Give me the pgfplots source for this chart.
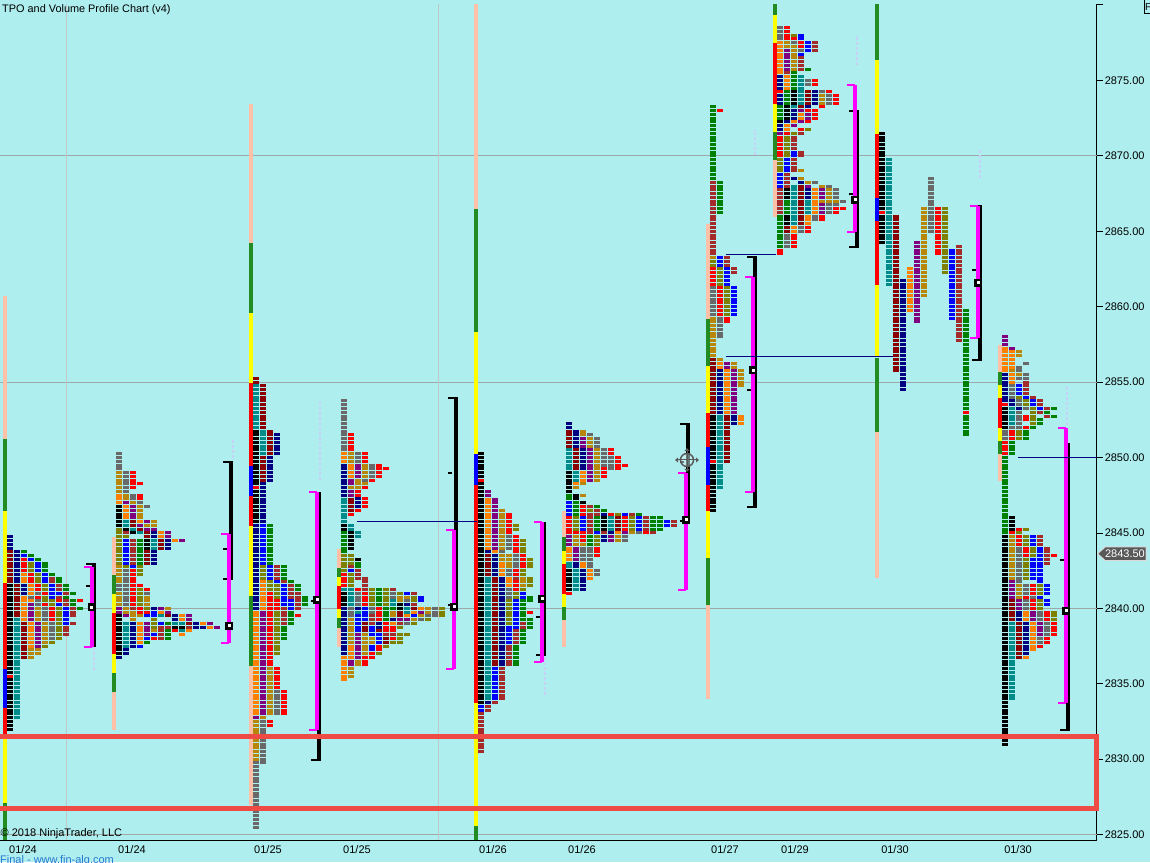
\documentclass[border=0pt]{standalone}
\usepackage{fontspec}
\setmainfont{Liberation Sans}
\usepackage{pgfplots}
\usepackage{pgfplotstable}
\pgfplotsset{compat=1.18}

\definecolor{bgc}{HTML}{AFEEEE}
\definecolor{gridc}{HTML}{9FA8A8}
\definecolor{vgrid}{HTML}{BFC8C8}
\definecolor{rectc}{HTML}{EE4B44}
\definecolor{fnt}{HTML}{C6D2F6}
\definecolor{mgn}{HTML}{FF00FF}
% TPO period colours
\definecolor{t1}{HTML}{000000}
\definecolor{t2}{HTML}{008B8B}
\definecolor{t3}{HTML}{000080}
\definecolor{t4}{HTML}{8B0000}
\definecolor{t5}{HTML}{FF7F00}
\definecolor{t6}{HTML}{800080}
\definecolor{t7}{HTML}{B8860B}
\definecolor{t8}{HTML}{696969}
\definecolor{t9}{HTML}{FF0000}
\definecolor{t10}{HTML}{808000}
\definecolor{t11}{HTML}{0000FF}
\definecolor{t12}{HTML}{A52A2A}
\definecolor{t13}{HTML}{008000}
\definecolor{t14}{HTML}{FFC0A8}
\definecolor{t15}{HTML}{228B22}
\definecolor{t16}{HTML}{FFFF00}

% one row = a run of TPO blocks of one colour in one column: x, lowest row, highest row, colour
\pgfplotstableread[row sep=\\]{
x lo hi c\\
10 2844 2844.75 3\\ 10 2841.75 2843.75 4\\ 10 2835.75 2841.5 1\\ 10 2835.5 2835.5 9\\ 10 2832 2835.25 1\\
17 2841.75 2843.75 3\\ 17 2839.5 2841.5 4\\ 17 2832.75 2839.25 2\\
24 2843.75 2843.75 13\\ 24 2843.5 2843.5 11\\ 24 2842.5 2843.25 9\\ 24 2841.75 2842.25 5\\ 24 2841 2841.5 3\\ 24 2839.25 2840.75 5\\ 24 2836.75 2839 4\\
31 2843.5 2843.5 13\\ 31 2843.25 2843.25 11\\ 31 2842.5 2843 10\\ 31 2841.75 2842.25 9\\ 31 2841 2841.5 5\\ 31 2840.75 2840.75 8\\ 31 2840.5 2840.5 5\\ 31 2839.25 2840.25 6\\ 31 2837.5 2839 5\\ 31 2836.75 2837.25 7\\
38 2843.25 2843.25 13\\ 38 2842.5 2843 11\\ 38 2841.75 2842.25 10\\ 38 2841.25 2841.5 9\\ 38 2841 2841 8\\ 38 2840.75 2840.75 9\\ 38 2840.25 2840.5 8\\ 38 2839.25 2840 7\\ 38 2837.5 2839 6\\ 38 2837 2837.25 7\\
45 2842.5 2843 13\\ 45 2841.75 2842.25 11\\ 45 2841.25 2841.5 10\\ 45 2841 2841 9\\ 45 2840.5 2840.75 10\\ 45 2840.25 2840.25 9\\ 45 2839.25 2840 8\\ 45 2837.75 2839 7\\ 45 2837.5 2837.5 10\\
52 2842.25 2842.25 13\\ 52 2841.75 2842 12\\ 52 2840.75 2841.5 11\\ 52 2840.25 2840.5 10\\ 52 2839.25 2840 9\\ 52 2838 2839 8\\ 52 2837.75 2837.75 10\\
59 2841.75 2842 13\\ 59 2841.25 2841.5 12\\ 59 2841 2841 11\\ 59 2840.75 2840.75 12\\ 59 2840.5 2840.5 9\\ 59 2840.25 2840.25 11\\ 59 2838 2840 10\\
66 2841.25 2841.5 13\\ 66 2841 2841 12\\ 66 2840.75 2840.75 13\\ 66 2840.25 2840.5 12\\ 66 2839 2840 11\\ 66 2838.25 2838.75 12\\
73 2841 2841 13\\ 73 2840.25 2840.5 13\\ 73 2839.5 2840 12\\ 73 2839 2839 12\\
80 2840.5 2840.5 9\\ 80 2840 2840 13\\
119 2849.25 2850.25 8\\ 119 2847.75 2849 7\\ 119 2847 2847.5 5\\ 119 2845.5 2846.75 1\\ 119 2843 2845.25 10\\ 119 2841.75 2842.75 7\\ 119 2841.25 2841.5 8\\ 119 2840.25 2841 7\\ 119 2839.75 2840 6\\ 119 2837 2839.5 1\\ 119 2836.75 2836.75 3\\
126 2847.75 2849 8\\ 126 2847.25 2847.5 7\\ 126 2847 2847 6\\ 126 2846 2846.75 5\\ 126 2845.5 2845.75 2\\ 126 2845.25 2845.25 1\\ 126 2845 2845 12\\ 126 2844.75 2844.75 10\\ 126 2843 2844.5 11\\ 126 2842.75 2842.75 10\\ 126 2840.25 2842.5 8\\ 126 2839.75 2840 7\\ 126 2839.5 2839.5 6\\ 126 2837.5 2839 2\\ 126 2837 2837.25 3\\
133 2848 2849 9\\ 133 2847.25 2847.5 8\\ 133 2847 2847 7\\ 133 2846 2846.75 6\\ 133 2845.5 2845.75 4\\ 133 2845.25 2845.25 2\\ 133 2845 2845 1\\ 133 2843 2844.5 12\\ 133 2842.75 2842.75 11\\ 133 2840.25 2842.5 9\\ 133 2840 2840 12\\ 133 2839.25 2839.75 7\\ 133 2837.5 2839 3\\
140 2848.25 2848.25 9\\ 140 2847.25 2847.5 9\\ 140 2847 2847 8\\ 140 2846 2846.75 7\\ 140 2845.75 2845.75 5\\ 140 2845.5 2845.5 6\\ 140 2845.25 2845.25 4\\ 140 2845 2845 2\\ 140 2843 2844.5 13\\ 140 2842.25 2842.75 10\\ 140 2841.5 2841.5 9\\ 140 2840.25 2841.25 10\\ 140 2839.75 2840 9\\ 140 2839.5 2839.5 7\\ 140 2837.75 2839 5\\ 140 2837.5 2837.5 11\\
147 2846.75 2846.75 8\\ 147 2845.75 2845.75 6\\ 147 2845.5 2845.5 7\\ 147 2845.25 2845.25 6\\ 147 2844.75 2845 4\\ 147 2844 2844.5 1\\ 147 2843 2843.75 4\\ 147 2841.25 2841.25 9\\ 147 2841 2841 8\\ 147 2840.25 2840.75 7\\ 147 2840 2840 10\\ 147 2839.75 2839.75 9\\ 147 2839.5 2839.5 11\\ 147 2838.25 2839 6\\ 147 2838 2838 11\\ 147 2837.75 2837.75 13\\
154 2845.5 2845.75 7\\ 154 2845.25 2845.25 6\\ 154 2844.75 2845 3\\ 154 2844 2844.5 2\\ 154 2843 2843.75 3\\ 154 2840 2840 3\\ 154 2839.5 2839.75 11\\ 154 2838.75 2839.25 10\\ 154 2838.5 2838.5 7\\ 154 2838.25 2838.25 11\\ 154 2838 2838 9\\
161 2844.75 2845 5\\ 161 2844 2844.5 4\\ 161 2840 2840 6\\ 161 2839.75 2839.75 5\\ 161 2839.5 2839.5 2\\ 161 2839 2839 11\\ 161 2838 2838.75 12\\
168 2844.75 2845 6\\ 168 2844 2844.5 3\\ 168 2840 2840 7\\ 168 2839.75 2839.75 6\\ 168 2839.5 2839.5 4\\ 168 2839 2839 13\\ 168 2838.75 2838.75 12\\ 168 2838 2838.5 13\\
175 2844.5 2844.5 5\\ 175 2839.25 2839.5 3\\ 175 2839 2839 2\\ 175 2838.75 2838.75 1\\ 175 2838.5 2838.5 9\\
182 2844.5 2844.5 6\\ 182 2839.25 2839.5 5\\ 182 2839 2839 2\\ 182 2838.75 2838.75 1\\ 182 2838.5 2838.5 2\\ 182 2838.25 2838.25 5\\
189 2839.25 2839.5 6\\ 189 2839 2839 4\\ 189 2838.75 2838.75 12\\ 189 2838.5 2838.5 5\\
196 2838.75 2839 3\\ 203 2839 2839 5\\ 203 2838.75 2838.75 3\\ 210 2839 2839 6\\ 210 2838.75 2838.75 5\\ 217 2838.75 2838.75 6\\
256 2855 2855.25 4\\ 256 2852 2854.75 2\\ 256 2848.25 2851.75 1\\ 256 2848 2848 9\\ 256 2845.75 2847.75 1\\ 256 2840 2845.5 3\\ 256 2833 2839.75 5\\ 256 2832.75 2832.75 6\\ 256 2830 2832.5 7\\ 256 2825.5 2829.75 8\\
263 2852 2854.75 4\\ 263 2850.25 2851.75 2\\ 263 2848.5 2850 4\\ 263 2845.75 2848.25 3\\ 263 2843 2845.5 11\\ 263 2842 2842.75 10\\ 263 2840 2841.75 5\\ 263 2833 2839.75 6\\ 263 2832.75 2832.75 7\\ 263 2829.75 2832.5 8\\
270 2850.25 2851.75 4\\ 270 2848.5 2850 3\\ 270 2843 2845.5 13\\ 270 2842 2842.75 11\\ 270 2841.25 2841.75 10\\ 270 2840 2841 9\\ 270 2836.25 2839.75 9\\ 270 2833 2836 7\\ 270 2832.25 2832.5 9\\
277 2850.25 2851.5 3\\ 277 2842 2842.75 12\\ 277 2841.75 2841.75 11\\ 277 2840.75 2841.5 10\\ 277 2840 2840.5 9\\ 277 2837 2839.75 10\\ 277 2834.75 2836 9\\ 277 2833 2834.5 8\\
284 2842 2842.75 13\\ 284 2841.75 2841.75 12\\ 284 2840.25 2841.5 11\\ 284 2839 2840 12\\ 284 2838 2838.75 13\\ 284 2833 2834.5 9\\
291 2841.75 2841.75 13\\ 291 2840.75 2841.5 12\\ 291 2840 2840.5 11\\ 291 2839 2839.75 13\\
298 2841.25 2841.5 13\\ 298 2840 2841 12\\ 298 2839.5 2839.5 9\\
305 2840.25 2840.75 13\\
344 2850.5 2853.75 8\\ 344 2849.75 2850.25 5\\ 344 2847.5 2849.5 3\\ 344 2845.75 2847.25 2\\ 344 2845.25 2845.5 1\\ 344 2843.75 2845 13\\ 344 2842.5 2843.5 10\\ 344 2841.5 2842.25 9\\ 344 2841.25 2841.25 2\\ 344 2840.25 2841 1\\ 344 2837 2840 3\\ 344 2835.25 2836.75 5\\
351 2850.5 2851.5 9\\ 351 2849.75 2850.25 7\\ 351 2848.75 2849.5 5\\ 351 2848.25 2848.5 6\\ 351 2848 2848 7\\ 351 2847.5 2847.75 6\\ 351 2846.5 2847.25 4\\ 351 2846.25 2846.25 9\\ 351 2845.25 2845.5 2\\ 351 2844 2845 1\\ 351 2843 2843.5 10\\ 351 2842.75 2842.75 12\\ 351 2842.5 2842.5 11\\ 351 2841.5 2842.25 10\\ 351 2840.25 2841.25 2\\ 351 2839.5 2840 8\\ 351 2837.75 2839.25 7\\ 351 2836.75 2837.5 5\\ 351 2836.25 2836.5 6\\ 351 2835.5 2836 7\\
358 2849.75 2850.25 8\\ 358 2848.75 2849.5 6\\ 358 2848 2848.5 7\\ 358 2847.5 2847.75 9\\ 358 2846.75 2847.25 3\\ 358 2846.5 2846.5 9\\ 358 2844.75 2845 2\\ 358 2843.25 2843.25 1\\ 358 2842.75 2843 13\\ 358 2842 2842.5 12\\ 358 2841.25 2841.25 9\\ 358 2840.25 2841 8\\ 358 2840 2840 3\\ 358 2839.75 2839.75 2\\ 358 2838.5 2839.5 11\\ 358 2836.75 2838.25 6\\ 358 2836.25 2836.5 7\\
365 2849.75 2850.25 9\\ 365 2848.75 2849.5 7\\ 365 2848.5 2848.5 8\\ 365 2848.25 2848.25 7\\ 365 2848 2848 9\\ 365 2846.75 2847.25 9\\ 365 2841.25 2842 12\\ 365 2840.25 2841 9\\ 365 2839.25 2840 11\\ 365 2838.5 2839 4\\ 365 2837 2838.25 7\\ 365 2836.25 2836.75 9\\
372 2848.75 2849.5 8\\ 372 2848.5 2848.5 9\\ 372 2840.25 2841.25 10\\ 372 2839.75 2840 8\\ 372 2839 2839.5 12\\ 372 2838.25 2838.75 11\\ 372 2837.75 2838 7\\ 372 2837.25 2837.5 11\\ 372 2836.75 2837 9\\
379 2848.75 2849.5 9\\ 379 2840.25 2841.25 13\\ 379 2839.25 2840 9\\ 379 2838.75 2839 3\\ 379 2838.5 2838.5 4\\ 379 2837.75 2838.25 11\\ 379 2837.25 2837.5 9\\ 379 2837 2837 10\\
386 2849.25 2849.25 9\\ 386 2840.25 2841.25 10\\ 386 2839.25 2840 13\\ 386 2838.5 2839 9\\ 386 2838.25 2838.25 12\\ 386 2837.75 2838 4\\ 386 2837.5 2837.5 10\\
393 2841.25 2841.25 12\\ 393 2840.75 2841 8\\ 393 2840.25 2840.5 2\\ 393 2840 2840 13\\ 393 2839.5 2839.75 7\\ 393 2839.25 2839.25 3\\ 393 2839 2839 5\\ 393 2838.5 2838.75 9\\ 393 2838.25 2838.25 12\\ 393 2838 2838 9\\ 393 2837.75 2837.75 10\\
400 2841 2841 10\\ 400 2840.5 2840.75 7\\ 400 2840 2840.25 1\\ 400 2839.5 2839.75 4\\ 400 2839.25 2839.25 6\\ 400 2839 2839 12\\ 400 2838.75 2838.75 10\\ 400 2838.25 2838.25 10\\ 400 2837.75 2838 10\\
407 2841 2841 11\\ 407 2840.75 2840.75 7\\ 407 2840.5 2840.5 8\\ 407 2840.25 2840.25 3\\ 407 2839.75 2840 2\\ 407 2839.5 2839.5 5\\ 407 2839.25 2839.25 6\\ 407 2839 2839 8\\ 407 2838.25 2838.25 10\\
414 2841 2841 12\\ 414 2840.5 2840.75 10\\ 414 2840.25 2840.25 12\\ 414 2840 2840 4\\ 414 2839.75 2839.75 5\\ 414 2839.5 2839.5 11\\ 414 2839.25 2839.25 7\\ 414 2839 2839 10\\
421 2840.5 2840.75 11\\ 421 2840 2840 5\\ 421 2839.75 2839.75 6\\ 421 2839.5 2839.5 7\\ 421 2839.25 2839.25 8\\
428 2839.75 2840 7\\ 428 2839.5 2839.5 8\\ 428 2839.25 2839.25 10\\
435 2839.5 2840 8\\ 442 2839.5 2840 10\\
481 2848.75 2850.25 1\\ 481 2848.5 2848.5 9\\ 481 2833.75 2848.25 1\\ 481 2833.25 2833.5 11\\ 481 2830.5 2833 12\\
488 2847.5 2847.75 6\\ 488 2844 2847.25 5\\ 488 2843.75 2843.75 3\\ 488 2842.25 2843.5 4\\ 488 2834 2842 2\\ 488 2833.75 2833.75 3\\ 488 2833.25 2833.5 12\\
495 2844 2847.25 6\\ 495 2843.75 2843.75 5\\ 495 2842.25 2843.5 3\\ 495 2836.25 2842 4\\ 495 2834 2836 11\\ 495 2833.75 2833.75 12\\
502 2844 2846.5 7\\ 502 2843.75 2843.75 8\\ 502 2843.25 2843.5 7\\ 502 2842.25 2843 5\\ 502 2836.25 2842 3\\ 502 2834 2836 12\\
509 2845 2846.25 9\\ 509 2844 2844.75 8\\ 509 2842.75 2843.5 7\\ 509 2842.25 2842.5 8\\ 509 2841.5 2842 5\\ 509 2840.75 2841.25 8\\ 509 2839 2840.5 10\\ 509 2837.75 2838.75 11\\ 509 2836.25 2837.5 12\\
516 2845.25 2845.5 10\\ 516 2843.75 2844.75 9\\ 516 2842.75 2843.5 8\\ 516 2842.25 2842.5 9\\ 516 2842 2842 12\\ 516 2841.25 2841.75 9\\ 516 2840.75 2841 10\\ 516 2838.75 2840.5 11\\ 516 2837.75 2838.5 12\\ 516 2836.25 2837.5 13\\
523 2843.75 2844.5 10\\ 523 2842.75 2843.5 9\\ 523 2842.25 2842.5 10\\ 523 2841.5 2842 7\\ 523 2841.25 2841.25 10\\ 523 2840.75 2841 11\\ 523 2839.25 2840.5 13\\ 523 2838.75 2839 12\\ 523 2837.75 2838.5 13\\
530 2842.75 2843.25 10\\ 530 2841.5 2842 10\\ 530 2840.5 2840.75 13\\ 530 2839.75 2839.75 9\\ 530 2838.75 2839.25 13\\
569 2852 2852.25 3\\ 569 2850.75 2851.75 4\\ 569 2849.25 2850.5 2\\ 569 2847.75 2849 1\\ 569 2847.25 2847.5 13\\ 569 2846.25 2847 11\\ 569 2845 2846 9\\ 569 2844.25 2844.75 6\\ 569 2843.25 2844 5\\ 569 2842.75 2843 2\\ 569 2841.25 2842.5 1\\ 569 2841 2841 9\\
576 2850.75 2851.75 3\\ 576 2849.25 2850.5 4\\ 576 2848.5 2849 2\\ 576 2848.25 2848.25 5\\ 576 2848 2848 7\\ 576 2847.25 2847.5 1\\ 576 2846.25 2847 13\\ 576 2845.25 2846 10\\ 576 2845 2845 9\\ 576 2844.25 2844.75 7\\ 576 2843.25 2844 6\\ 576 2842.75 2843 3\\ 576 2841.25 2842.5 2\\
583 2851.5 2851.75 7\\ 583 2850.75 2851.25 6\\ 583 2849.25 2850.5 3\\ 583 2848.5 2849 5\\ 583 2848.25 2848.25 7\\ 583 2847.5 2847.5 7\\ 583 2847 2847 1\\ 583 2846.25 2846.75 9\\ 583 2845.25 2846 11\\ 583 2844.5 2845 9\\ 583 2844.25 2844.25 7\\ 583 2843.25 2844 8\\ 583 2842.75 2843 5\\ 583 2841.25 2842.5 3\\
590 2851.5 2851.5 8\\ 590 2850.75 2851.25 7\\ 590 2848.5 2850.5 6\\ 590 2846.75 2846.75 12\\ 590 2846.5 2846.5 10\\ 590 2845 2846.25 12\\ 590 2844.25 2844.75 13\\ 590 2843.25 2844 8\\ 590 2842.75 2843 8\\ 590 2842 2842.5 5\\
597 2850.75 2851.25 8\\ 597 2849.5 2850.5 7\\ 597 2848.5 2849.25 7\\ 597 2846.75 2846.75 13\\ 597 2846.25 2846.5 12\\ 597 2845.25 2846 13\\ 597 2845 2845 11\\ 597 2844.25 2844.75 10\\ 597 2843.5 2844 9\\ 597 2842.25 2842.5 8\\
604 2849.5 2850.5 8\\ 604 2848.75 2849.25 9\\ 604 2846.5 2846.5 13\\ 604 2846.25 2846.25 3\\ 604 2845.25 2846 1\\ 604 2845 2845 12\\ 604 2844.5 2844.75 3\\
611 2850.25 2850.5 9\\ 611 2849.25 2850 8\\ 611 2846.25 2846.25 9\\ 611 2845.25 2846 2\\ 611 2845 2845 3\\ 611 2844.5 2844.75 6\\
618 2849.25 2850 9\\ 618 2846.25 2846.25 10\\ 618 2845.25 2846 4\\ 618 2845 2845 5\\ 618 2844.5 2844.75 7\\
625 2849.5 2849.5 9\\ 625 2846.25 2846.25 11\\ 625 2845.25 2846 9\\ 625 2845 2845 6\\ 625 2844.5 2844.75 8\\
632 2846.25 2846.25 12\\ 632 2845.25 2846 10\\ 632 2845 2845 7\\
639 2846.25 2846.25 13\\ 639 2845.25 2846 11\\ 639 2845 2845 8\\
646 2845.25 2846 12\\ 646 2845 2845 9\\
653 2845.25 2846 13\\ 653 2845 2845 12\\
660 2845.25 2846 13\\ 667 2845.5 2845.75 11\\ 674 2845.5 2845.75 12\\
713 2868.5 2873.25 13\\ 713 2863.5 2868.25 12\\ 713 2863.25 2863.25 7\\ 713 2862.75 2863 10\\ 713 2861.5 2862.5 9\\ 713 2859.5 2861.25 8\\ 713 2856.75 2859.25 7\\ 713 2853 2856.5 4\\ 713 2850 2852.75 1\\ 713 2849.75 2849.75 9\\ 713 2846.5 2849.5 1\\
720 2873 2873 9\\ 720 2866.25 2868.25 13\\ 720 2862.75 2863.25 11\\ 720 2861.5 2862.5 10\\ 720 2859.5 2861.25 9\\ 720 2858 2859.25 8\\ 720 2856.5 2856.5 7\\ 720 2856 2856.25 5\\ 720 2853 2855.75 3\\ 720 2848 2852.75 2\\
727 2862.75 2863.25 12\\ 727 2861.5 2862.5 11\\ 727 2859.5 2861.25 10\\ 727 2859 2859.25 9\\ 727 2856 2856.25 6\\ 727 2853 2855.75 5\\ 727 2849.75 2852.75 4\\
734 2862.25 2862.5 12\\ 734 2859.5 2861.25 11\\ 734 2856 2856.25 7\\ 734 2853 2855.75 6\\ 734 2852.25 2852.75 3\\
741 2854.75 2855.75 7\\ 741 2852.25 2852.75 5\\
780 2877.75 2878.5 8\\ 780 2875.5 2877.5 5\\ 780 2874.5 2875.25 3\\ 780 2874.25 2874.25 9\\ 780 2873.5 2874 3\\ 780 2872.5 2873.25 13\\ 780 2872.25 2872.25 1\\ 780 2871.75 2872 3\\ 780 2871.5 2871.5 6\\ 780 2870 2871.25 9\\ 780 2869 2869.75 10\\ 780 2868 2868.75 11\\ 780 2866.25 2867.75 12\\ 780 2864 2866 13\\ 780 2863.5 2863.75 9\\
787 2877.75 2878.5 9\\ 787 2877.25 2877.5 7\\ 787 2875.75 2877 6\\ 787 2875.5 2875.5 12\\ 787 2874.5 2875.25 5\\ 787 2873.5 2874.25 13\\ 787 2872.5 2873.25 1\\ 787 2872.25 2872.25 3\\ 787 2871.75 2872 5\\ 787 2871.5 2871.5 9\\ 787 2870 2871.25 10\\ 787 2869 2869.75 11\\ 787 2868 2868.75 12\\ 787 2867.25 2867.75 1\\ 787 2866.25 2867 13\\ 787 2865.5 2866 1\\ 787 2865 2865.25 4\\ 787 2864 2864.75 8\\
794 2878 2878 10\\ 794 2877.75 2877.75 9\\ 794 2877.5 2877.5 8\\ 794 2875.75 2877.25 7\\ 794 2874.5 2875.5 13\\ 794 2873.5 2874.25 1\\ 794 2873.25 2873.25 2\\ 794 2872.5 2873 3\\ 794 2872.25 2872.25 5\\ 794 2872 2872 6\\ 794 2871.5 2871.5 10\\ 794 2870.5 2871.25 12\\ 794 2870 2870.25 11\\ 794 2869 2869.75 12\\ 794 2868.5 2868.5 3\\ 794 2865.5 2868 2\\ 794 2865 2865.25 5\\ 794 2864 2864.75 9\\
801 2877.75 2878 11\\ 801 2877.25 2877.5 9\\ 801 2877 2877 8\\ 801 2876.75 2876.75 11\\ 801 2875.75 2876.5 12\\ 801 2873.5 2875.25 2\\ 801 2873.25 2873.25 4\\ 801 2873 2873 6\\ 801 2872.5 2872.75 5\\ 801 2872.25 2872.25 6\\ 801 2871.75 2871.75 9\\ 801 2871.5 2871.5 12\\ 801 2870 2870.25 12\\ 801 2869 2869 7\\ 801 2868.5 2868.5 7\\ 801 2868.25 2868.25 3\\ 801 2865.5 2868 4\\ 801 2865 2865.25 8\\
808 2877 2877.5 11\\ 808 2875.75 2875.75 13\\ 808 2874.75 2875 8\\ 808 2873.5 2874.25 4\\ 808 2873.25 2873.25 3\\ 808 2873 2873 9\\ 808 2872.5 2872.75 6\\ 808 2872.25 2872.25 9\\ 808 2871.75 2871.75 10\\ 808 2868.25 2868.25 7\\ 808 2868 2868 6\\ 808 2867.25 2867.75 3\\ 808 2866.25 2867 2\\ 808 2865.5 2866 5\\ 808 2865 2865.25 9\\
815 2877 2877.5 12\\ 815 2874.75 2875 9\\ 815 2873.5 2874.25 3\\ 815 2872.5 2873 9\\ 815 2868.25 2868.25 8\\ 815 2866.25 2867.75 5\\ 815 2865.75 2866 8\\
822 2874.25 2874.25 8\\ 822 2873.5 2874 7\\ 822 2873.25 2873.25 9\\ 822 2868 2868 7\\ 822 2867.25 2867.75 6\\ 822 2867 2867 7\\ 822 2866.25 2866.75 6\\ 822 2865.75 2866 9\\
829 2874.25 2874.25 9\\ 829 2873.5 2874 8\\ 829 2868 2868 8\\ 829 2867 2867.75 7\\ 829 2866.25 2866.75 8\\
836 2873.5 2874 9\\ 836 2867.25 2867.75 8\\ 836 2867 2867 7\\ 836 2866.75 2866.75 8\\ 836 2866.25 2866.5 9\\
843 2867 2867 8\\ 843 2866.5 2866.5 9\\
882 2866.5 2871.5 1\\ 882 2866.25 2866.25 9\\ 882 2864.25 2866 1\\
889 2861.5 2869.75 2\\ 896 2855.75 2866 4\\ 903 2854.5 2861.75 3\\ 910 2859.75 2862.5 5\\ 917 2859 2864.25 6\\ 924 2860.75 2866.5 7\\ 931 2865 2868.5 8\\ 938 2863.5 2866.5 9\\ 945 2862.25 2866.5 10\\ 952 2859.25 2863.75 11\\ 959 2857.75 2864 12\\
966 2853.25 2859.75 13\\ 966 2853 2853 9\\ 966 2851.5 2852.75 13\\
1005 2857.5 2858 6\\ 1005 2855.75 2857.25 5\\ 1005 2853.75 2855.5 3\\ 1005 2853.5 2853.5 9\\ 1005 2852 2853.25 1\\ 1005 2851.25 2851.75 8\\ 1005 2850.25 2851 9\\ 1005 2845 2850 13\\ 1005 2831 2844.75 1\\
1012 2857.25 2857.25 6\\ 1012 2856 2857 5\\ 1012 2855.75 2855.75 7\\ 1012 2855 2855.5 5\\ 1012 2854 2854.75 8\\ 1012 2853.5 2853.75 3\\ 1012 2852.25 2853.25 2\\ 1012 2852 2852 8\\ 1012 2851.25 2851.75 9\\ 1012 2850.25 2851 13\\ 1012 2845.25 2846 1\\ 1012 2845 2845 9\\ 1012 2842 2844.75 7\\ 1012 2840.75 2841.75 6\\ 1012 2839.25 2840.5 4\\ 1012 2834 2839 2\\
1019 2856.75 2857 7\\ 1019 2855.75 2856 8\\ 1019 2855.5 2855.5 7\\ 1019 2855.25 2855.25 8\\ 1019 2854.25 2854.75 11\\ 1019 2854 2854 10\\ 1019 2853.5 2853.75 8\\ 1019 2853.25 2853.25 3\\ 1019 2852 2853 8\\ 1019 2851.25 2851.75 10\\ 1019 2845.25 2845.25 9\\ 1019 2845 2845 10\\ 1019 2844.25 2844.75 9\\ 1019 2841.75 2844 8\\ 1019 2840.75 2841.5 7\\ 1019 2840 2840.5 6\\ 1019 2839.25 2839.75 3\\ 1019 2836.75 2839 4\\
1026 2856.25 2856.25 8\\ 1026 2855.25 2855.5 8\\ 1026 2854.25 2855 12\\ 1026 2854 2854 11\\ 1026 2853.5 2853.75 10\\ 1026 2853.25 2853.25 8\\ 1026 2852.5 2852.75 9\\ 1026 2852 2852 9\\ 1026 2851.25 2851.75 13\\ 1026 2845.25 2845.25 10\\ 1026 2844.25 2844.75 10\\ 1026 2843.5 2844 9\\ 1026 2842 2843.25 10\\ 1026 2841 2841.5 8\\ 1026 2840.75 2840.75 9\\ 1026 2840 2840.5 8\\ 1026 2839.25 2839.75 5\\ 1026 2837 2839 3\\ 1026 2836.75 2836.75 5\\
1033 2854 2854 12\\ 1033 2853.5 2853.75 11\\ 1033 2853 2853.25 10\\ 1033 2852.25 2852.75 10\\ 1033 2852 2852 13\\ 1033 2844.25 2844.75 11\\ 1033 2843.5 2844 10\\ 1033 2842 2843.25 11\\ 1033 2841 2841.5 9\\ 1033 2840.75 2840.75 8\\ 1033 2840 2840.5 9\\ 1033 2839.25 2839.75 6\\ 1033 2837.25 2839 5\\
1040 2853.5 2853.75 12\\ 1040 2853.25 2853.25 11\\ 1040 2853 2853 12\\ 1040 2852.25 2852.5 13\\ 1040 2844.25 2844.75 12\\ 1040 2841.75 2844 11\\ 1040 2841 2841.5 10\\ 1040 2840.75 2840.75 11\\ 1040 2840 2840.5 10\\ 1040 2839.25 2839.75 8\\ 1040 2838.25 2839 6\\ 1040 2837.75 2838 8\\ 1040 2837.5 2837.5 9\\
1047 2853.25 2853.25 12\\ 1047 2853 2853 13\\ 1047 2852.75 2852.75 12\\ 1047 2843 2844 12\\ 1047 2841 2841.5 11\\ 1047 2840.25 2840.5 11\\ 1047 2839.25 2839.75 9\\ 1047 2838.25 2839 8\\ 1047 2837.75 2838 9\\
1054 2853.25 2853.25 13\\ 1054 2852.75 2852.75 13\\ 1054 2843.5 2843.5 9\\ 1054 2839.25 2839.75 10\\ 1054 2838.25 2839 9\\
}\tpotab

% session bars at the left of each profile
\pgfplotstableread[row sep=\\]{
x lo hi c\\
5 2851.23 2860.71 14\\ 5 2846.45 2851.23 15\\ 5 2841.68 2846.45 16\\ 5 2835.98 2841.68 9\\ 5 2833.39 2835.98 11\\ 5 2831.4 2833.39 9\\ 5 2827.09 2831.4 16\\ 5 2824.64 2827.09 15\\
114 2842.21 2844.73 14\\ 114 2840.95 2842.21 15\\ 114 2839.69 2840.95 16\\ 114 2836.97 2839.69 9\\ 114 2835.71 2836.97 16\\ 114 2834.45 2835.71 15\\ 114 2831.93 2834.45 14\\
251 2864.22 2873.44 14\\ 251 2859.58 2864.22 15\\ 251 2854.96 2859.58 16\\ 251 2849.46 2854.96 9\\ 251 2847.47 2849.46 11\\ 251 2845.46 2847.47 9\\ 251 2840.82 2845.46 16\\ 251 2836.2 2840.82 15\\ 251 2826.96 2836.2 14\\
339 2842.67 2843.93 14\\ 339 2842.08 2842.67 15\\ 339 2841.48 2842.08 16\\ 339 2839.96 2841.48 9\\ 339 2839.36 2839.96 16\\ 339 2838.7 2839.36 15\\ 339 2837.46 2838.7 14\\
476 2866.48 2880.07 14\\ 476 2858.32 2866.48 15\\ 476 2850.23 2858.32 16\\ 476 2848.18 2850.23 11\\ 476 2833.74 2848.18 9\\ 476 2825.59 2833.74 16\\ 476 2824.64 2825.59 15\\
564 2844.73 2846.45 14\\ 564 2843.8 2844.73 15\\ 564 2842.94 2843.8 16\\ 564 2840.95 2842.94 9\\ 564 2840.09 2840.95 16\\ 564 2839.23 2840.09 15\\ 564 2837.46 2839.23 14\\
708 2859.19 2865.49 14\\ 708 2856.07 2859.19 15\\ 708 2852.95 2856.07 16\\ 708 2850.7 2852.95 9\\ 708 2848.18 2850.7 11\\ 708 2846.45 2848.18 9\\ 708 2843.34 2846.45 16\\ 708 2840.22 2843.34 15\\ 708 2833.99 2840.22 14\\
775 2879.34 2880.07 15\\ 775 2877.49 2879.34 16\\ 775 2873.44 2877.49 9\\ 775 2871.59 2873.44 16\\ 775 2869.73 2871.59 15\\ 775 2865.95 2869.73 14\\
877 2876.36 2880.07 15\\ 877 2871.45 2876.36 16\\ 877 2867.21 2871.45 9\\ 877 2865.68 2867.21 11\\ 877 2861.44 2865.68 9\\ 877 2856.73 2861.44 16\\ 877 2851.69 2856.6 15\\ 877 2842.01 2851.69 14\\
1000 2855.67 2857.46 14\\ 1000 2854.81 2855.67 15\\ 1000 2853.95 2854.81 16\\ 1000 2851.96 2853.95 9\\ 1000 2851.1 2851.96 16\\ 1000 2850.23 2851.1 15\\ 1000 2848.44 2850.23 14\\
}\sesstab

% value area brackets: x lo hi
\pgfplotstableread[row sep=\\]{
x lo hi\\
94 2837.42 2842.94\\ 231 2841.88 2849.72\\ 319 2829.94 2847.73\\ 456 2840.02 2853.95\\ 544 2836.9 2845.74\\
688 2845.79 2852.22\\ 755 2846.74 2863.3\\ 857 2863.98 2873\\ 980 2856.46 2866.75\\ 1068 2831.93 2850.98\\
}\blktab
\pgfplotstableread[row sep=\\]{
x lo hi\\
92 2837.42 2842.72\\ 229 2837.7 2844.93\\ 317 2831.93 2847.73\\ 454 2835.98 2845.19\\ 542 2836.46 2845.74\\
686 2841.22 2848.99\\ 753 2847.73 2861.99\\ 855 2864.97 2874.7\\ 978 2857.94 2866.68\\ 1066 2833.74 2851.96\\
}\magtab
% faint dashes
\pgfplotstableread[row sep=\\]{
x lo hi\\
94 2835.91 2843.07\\ 233 2850 2851.2\\ 320 2848.51 2853.81\\ 545 2834.25 2836.9\\ 755 2870.06 2871.72\\
857 2876.03 2878.02\\ 980 2868.54 2870.39\\ 1067 2852.16 2854.81\\
}\fainttab

\begin{document}
\begin{tikzpicture}[x=1pt,y=1pt]
\useasboundingbox (0,0) rectangle (1150,862);
\fill[bgc] (0,0) rectangle (1150,862);
\begin{axis}[
    at={(0pt,22pt)}, anchor=south west,
    scale only axis, width=1096.7pt, height=836pt,
    xmin=0, xmax=1096.7, ymin=2824.64, ymax=2880.07,
    axis x line=bottom, axis y line=right,
    axis line style={-, black, line width=1pt},
    clip=false,
    xtick={23,132,268,357,493,582,725,795,895,1018},
    xticklabels={01/24,01/24,01/25,01/25,01/26,01/26,01/27,01/29,01/30,01/30},
    ytick={2825,2830,...,2875},
    x tick style={draw=none},
    y tick style={black, line width=0.8pt},
    tick align=outside, major tick length=6pt,
    tick label style={font=\fontsize{11}{13}\selectfont},
    xticklabel style={yshift=4.5pt},
    yticklabel style={xshift=-1.5pt,
      /pgf/number format/.cd, fixed, fixed zerofill, precision=2, 1000 sep={}, assume math mode=true},
    seg/.style={only marks, mark size=0pt, mark options={draw=none, fill=none}, error bars/y dir=plus, error bars/y explicit, error bars/error mark=none},
]
% grid lines
\addplot[gridc, line width=1pt] coordinates {(0,2870)(1096.7,2870)};
\addplot[gridc, line width=1pt] coordinates {(0,2855)(1096.7,2855)};
\addplot[gridc, line width=1pt] coordinates {(0,2840)(1096.7,2840)};
\addplot[gridc, line width=1pt] coordinates {(0,2825)(1096.7,2825)};
\addplot[vgrid, line width=1pt] coordinates {(66,2824.64)(66,2880.07)};
\addplot[vgrid, line width=1pt] coordinates {(438,2824.64)(438,2880.07)};

% faint dashes
\addplot[seg, error bars/error bar style={color=fnt, line width=1.5pt, dash pattern=on 3pt off 2pt}]
    table[x=x, y=lo, y error plus expr=\thisrow{hi}-\thisrow{lo}] {\fainttab};

% session bars
\pgfplotsinvokeforeach{9,11,14,15,16}{
\addplot[seg, error bars/error bar style={color=t#1, line width=4pt}]
    table[x expr={\thisrow{c}==#1 ? \thisrow{x} : nan}, y=lo, y error plus expr=\thisrow{hi}-\thisrow{lo}] {\sesstab};
}
% TPO blocks
\pgfplotsinvokeforeach{1,...,13}{
\addplot[seg, error bars/error bar style={color=t#1, line width=6pt, dash pattern=on 3pt off 0.77pt}]
    table[x expr={\thisrow{c}==#1 ? \thisrow{x} : nan}, y expr=\thisrow{lo}-0.1, y error plus expr=\thisrow{hi}-\thisrow{lo}+0.2] {\tpotab};
}
% brackets
\addplot[seg, error bars/error bar style={color=black, line width=4pt}]
    table[x=x, y=lo, y error plus expr=\thisrow{hi}-\thisrow{lo}] {\blktab};
\addplot[black, line width=2pt, unbounded coords=jump] coordinates {
(86,2842.94)(96,2842.94)(nan,nan)(86,2841.5)(90,2841.5)(nan,nan)
(223,2849.72)(233,2849.72)(nan,nan)(223,2843.93)(227,2843.93)(nan,nan)(223,2841.94)(229,2841.94)(nan,nan)
(311,2829.94)(321,2829.94)(nan,nan)(311,2840.5)(315,2840.5)(nan,nan)
(448,2853.95)(458,2853.95)(nan,nan)(448,2848.99)(452,2848.99)(nan,nan)(448,2840.22)(458,2840.22)(nan,nan)
(536,2836.9)(546,2836.9)(nan,nan)(536,2839.44)(540,2839.44)(nan,nan)
(680,2852.22)(690,2852.22)(nan,nan)(680,2849.72)(684,2849.72)(nan,nan)(680,2845.79)(690,2845.79)(nan,nan)
(747,2863.3)(757,2863.3)(nan,nan)(747,2854.48)(751,2854.48)(nan,nan)(747,2846.74)(757,2846.74)(nan,nan)
(849,2873)(859,2873)(nan,nan)(849,2867.48)(853,2867.48)(nan,nan)(849,2863.98)(859,2863.98)(nan,nan)
(972,2862.44)(976,2862.44)(nan,nan)(972,2856.46)(982,2856.46)(nan,nan)
(1060,2843.2)(1064,2843.2)(nan,nan)(1060,2831.93)(1070,2831.93)
};
\addplot[seg, error bars/error bar style={color=mgn, line width=4pt}]
    table[x=x, y=lo, y error plus expr=\thisrow{hi}-\thisrow{lo}] {\magtab};
\addplot[mgn, line width=2pt, unbounded coords=jump] coordinates {
(84,2842.72)(92,2842.72)(nan,nan)(84,2837.42)(92,2837.42)(nan,nan)
(221,2844.93)(229,2844.93)(nan,nan)(221,2837.7)(229,2837.7)(nan,nan)
(309,2847.73)(317,2847.73)(nan,nan)(309,2831.93)(317,2831.93)(nan,nan)
(446,2845.19)(454,2845.19)(nan,nan)(446,2835.98)(454,2835.98)(nan,nan)
(534,2845.74)(542,2845.74)(nan,nan)(534,2836.46)(542,2836.46)(nan,nan)
(678,2848.99)(686,2848.99)(nan,nan)(678,2841.22)(686,2841.22)(nan,nan)
(745,2861.99)(753,2861.99)(nan,nan)(745,2847.73)(753,2847.73)(nan,nan)
(847,2874.7)(855,2874.7)(nan,nan)(847,2864.97)(855,2864.97)(nan,nan)
(970,2866.68)(978,2866.68)(nan,nan)(970,2857.94)(978,2857.94)(nan,nan)
(1058,2851.96)(1066,2851.96)(nan,nan)(1058,2833.74)(1066,2833.74)
};
% naked POC lines
\addplot[t3, line width=1pt] coordinates {(726,2863.47)(776,2863.47)};
\addplot[t3, line width=1pt] coordinates {(726,2856.68)(893,2856.68)};
\addplot[t3, line width=1pt] coordinates {(357,2845.79)(477,2845.79)};
\addplot[t3, line width=1pt] coordinates {(1018,2850.03)(1097,2850.03)};
% POC squares
\addplot[only marks, mark=square*, mark size=2.75pt, mark options={fill=white, draw=black, line width=2.5pt}] coordinates {
(91.5,2840.07)(229,2838.83)(317,2840.58)(454,2840.09)(542,2840.62)(686,2845.86)(753,2855.8)(855,2867.08)(978,2861.59)(1066,2839.84)
};
\end{axis}
% highlight box
\draw[rectc, line width=5pt] (-6,125.5) rectangle (1096.5,53.5);
% top tick of the price axis
\draw[black, line width=1pt] (1096.7,857.5) -- (1103,857.5);
% corner button
\draw[black, line width=1pt] (1144,861.5) -- (1144,848.5) -- (1150,848.5);
\node[anchor=west, inner sep=0pt, font=\fontsize{10}{12}\selectfont] at (1145,855) {F};
% last price tag
\fill[gray!30] (1097,308.3) -- (1105,315.5) -- (1146.5,315.5) -- (1146.5,301) -- (1105,301) -- cycle;
\fill[black!65] (1098.5,308.3) -- (1105.5,314.5) -- (1145.5,314.5) -- (1145.5,302) -- (1105.5,302) -- cycle;
\node[white, anchor=east, inner sep=0pt, font=\fontsize{11}{13}\selectfont] at (1145,308.3) {2843.50};
% chart cursor
\begin{scope}[shift={(687,402)}]
\draw[gray!70!black, line width=1.5pt, fill=bgc!60!white, fill opacity=0.5] (0,0) circle (6.5);
\draw[gray!70!black, line width=1pt] (-11,0) -- (11,0) (0,-11) -- (0,11);
\fill[gray!70!black] (-12,0) -- (-9,2.5) -- (-9,-2.5) -- cycle (12,0) -- (9,2.5) -- (9,-2.5) -- cycle (0,12) -- (2.5,9) -- (-2.5,9) -- cycle (0,-12) -- (2.5,-9) -- (-2.5,-9) -- cycle;
\end{scope}
% texts
\node[anchor=west, inner sep=0pt, font=\fontsize{10.9}{12}\selectfont] at (2,852) {TPO and Volume Profile Chart (v4)};
\node[anchor=west, inner sep=0pt, font=\fontsize{11}{13}\selectfont] at (0.5,28) {© 2018 NinjaTrader, LLC};
\node[anchor=north west, inner sep=0pt, text={rgb,255:red,40;green,120;blue,210}, font=\fontsize{11}{13}\selectfont] at (0,6.5) {Final - www.fin-alg.com};
\end{tikzpicture}
\end{document}
